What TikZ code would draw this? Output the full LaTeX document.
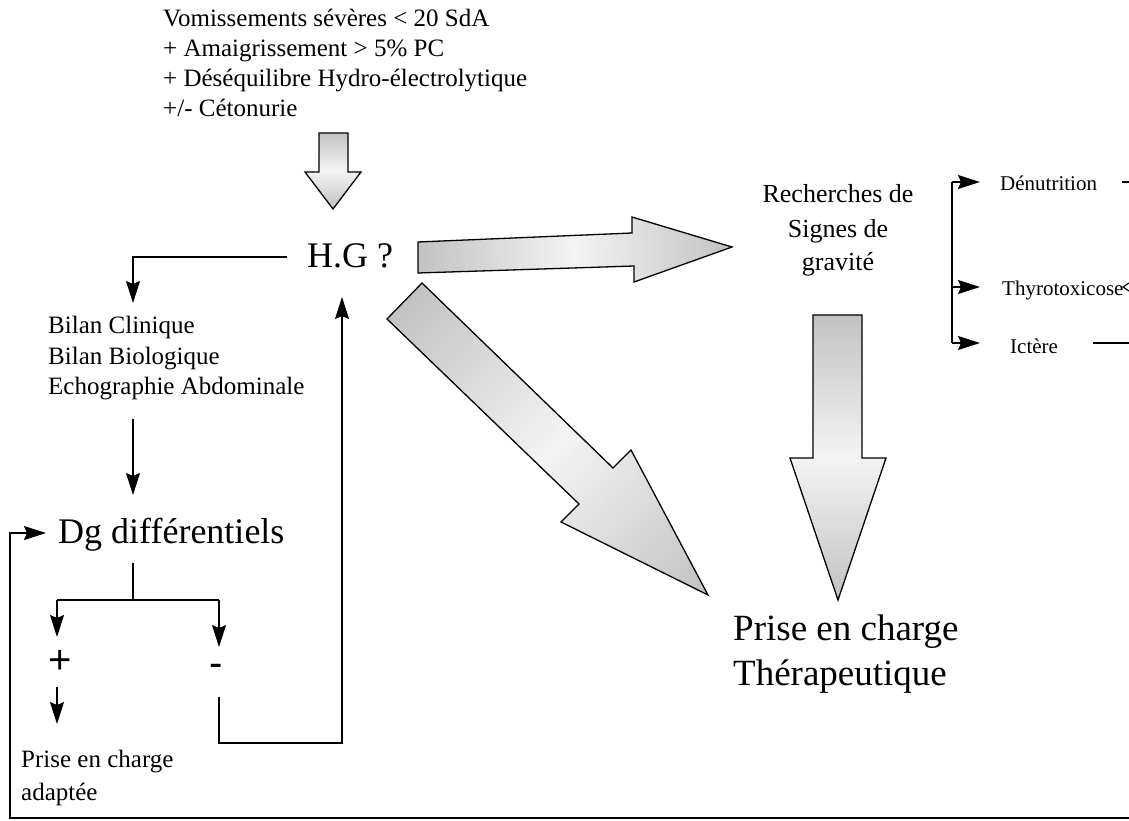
\documentclass[tikz,border=0pt]{standalone}
\usepackage{fontspec}
\setmainfont{Liberation Serif}
\newfontfamily\sansf{Liberation Sans}
\usetikzlibrary{arrows.meta}
\newcommand\gradarrow[4]{%
 \begin{scope}
  \clip #1;
  \begin{scope}[shift={#2}, x={#3}, y={#4}]
   \foreach \i in {0,...,59}{%
     \pgfmathsetmacro\gc{9+39*abs(2*(\i+0.5)/60-1)}%
     \fill[gray!\gc] (\i/60,-1) -- ({(\i+1.4)/60},-1) -- ({(\i+1.4)/60},1) -- (\i/60,1) -- cycle;}
  \end{scope}
 \end{scope}
 \draw[blk] #1;
}
\begin{document}
\begin{tikzpicture}[x=1pt,y=-1pt,
  txt/.style={inner sep=0pt, anchor=base west, font=\fontsize{25}{30}\selectfont},
  small/.style={inner sep=0pt, anchor=base west, font=\fontsize{21}{25}\selectfont},
  big/.style={inner sep=0pt, anchor=base west, font=\fontsize{36}{42}\selectfont},
  rech/.style={inner sep=0pt, anchor=base, font=\fontsize{26}{33}\selectfont},
  therap/.style={inner sep=0pt, anchor=base west, font=\fontsize{37}{45}\selectfont},
  signe/.style={inner sep=0pt, font=\sansf\fontsize{40}{44}\selectfont},
  conn/.style={line width=1.2pt},
  arr/.style={conn, -{Stealth[length=22pt,width=14pt,inset=3pt]}},
  blk/.style={draw, line width=1.3pt, line join=miter}
]
\useasboundingbox (0,0) rectangle (1129,821);

% top text
\node[txt] (t1) at (163,27) {Vomissements sévères < 20 SdA};
\node[txt] (t2) at (163,57) {+ Amaigrissement > 5\% PC};
\node[txt] (t3) at (163,87) {+ Déséquilibre Hydro-électrolytique};
\node[txt] (t4) at (163,117) {+/- Cétonurie};

% small block arrow down
\gradarrow{(319,133) -- (348,133) -- (348,172) -- (361,172) -- (333,209) -- (305,172) -- (319,172) -- cycle}{(333,133)}{(0pt,-76pt)}{(40pt,0pt)}

% H.G ?
\node[big] (hg) at (307,267) {H.G ?};

% horizontal block arrow
\gradarrow{(418,242) -- (632,233) -- (632,217) -- (732,247) -- (634,282) -- (634,266) -- (418,273) -- cycle}{(418,257.5)}{(314pt,10.5pt)}{(-2pt,60pt)}

% diagonal block arrow
\gradarrow{(422,283) -- (613,468) -- (631,450) -- (708,595) -- (561,522) -- (579,504) -- (387,319) -- cycle}{(404.5,301)}{(303.5pt,-294pt)}{(56pt,58pt)}

% Recherches de signes de gravite
\node[rech] (r1) at (838,203) {Recherches de};
\node[rech] (r2) at (838,237) {Signes de};
\node[rech] (r3) at (838,270) {gravité};

% vertical block arrow
\gradarrow{(813,315) -- (862,315) -- (862,458) -- (886,458) -- (838,600) -- (790,458) -- (813,458) -- cycle}{(837.5,315)}{(0pt,-285pt)}{(60pt,0pt)}

% Prise en charge therapeutique
\node[therap] (p1) at (733,640) {Prise en charge};
\node[therap] (p2) at (733,685) {Thérapeutique};

% right branches
\node[small] (den) at (1000,190) {Dénutrition};
\node[small] (thy) at (1002,295) {Thyrotoxicose};
\node[small] (ict) at (1010,353) {Ictère};
\coordinate (b1) at (952,182);
\coordinate (b2) at (952,287);
\coordinate (b3) at (952,343);
\coordinate (e1) at (980,182);
\coordinate (e2) at (980,287);
\coordinate (e3) at (980,343);
\draw[conn] (b1) -- (b3);
\draw[arr] (b1) -- (e1);
\draw[arr] (b2) -- (e2);
\draw[arr] (b3) -- (e3);
\draw[conn] (1122,182) -- (1129,182);
\draw[conn] (1093,343) -- (1129,343);
\draw[conn] (1129,283) -- (1123,287) -- (1129,291);

% left side
\coordinate (hgl) at (287,257);
\coordinate (c1) at (133,257);
\node[txt] (bl1) at (48,333) {Bilan Clinique};
\node[txt] (bl2) at (48,364) {Bilan Biologique};
\node[txt] (bl3) at (48,394) {Echographie Abdominale};
\draw[arr] (hgl) -- (c1) -- (133,303);
\draw[arr] (133,419) -- (133,495);

\node[big] (dg) at (58,543) {Dg différentiels};
\coordinate (d0) at (133,563);
\coordinate (d1) at (133,600);
\draw[conn] (d0) -- (d1);
\draw[conn] (57,600) -- (219,600);
\draw[arr] (57,600) -- (57,637);
\draw[arr] (219,600) -- (219,647);
\node[signe] (plus) at (60,662) {+};
\node[signe] (minus) at (216,670) {-};
\draw[arr] (57,687) -- (57,724);
\node[txt] (pa1) at (21,767) {Prise en charge};
\node[txt] (pa2) at (21,800) {adaptée};

% minus loop back to H.G
\draw[arr] (219,697) -- (219,743) -- (342,743) -- (342,297);

% bottom loop into Dg
\draw[arr] (1129,818) -- (10,818) -- (10,533) -- (46,533);
\end{tikzpicture}
\end{document}
